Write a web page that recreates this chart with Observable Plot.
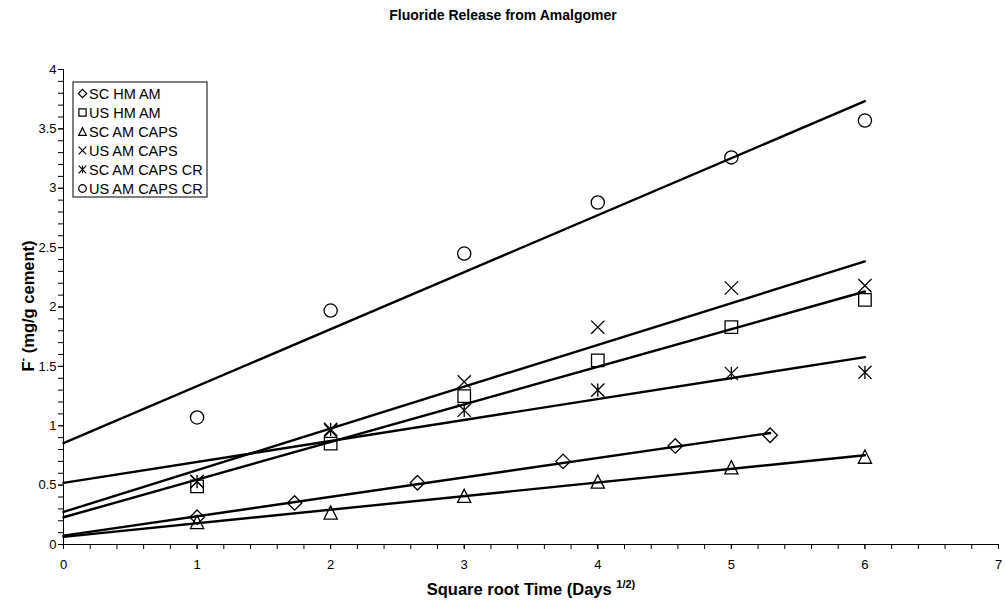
<!DOCTYPE html>
<html><head><meta charset="utf-8">
<script src="https://cdn.jsdelivr.net/npm/d3@7"></script>
<script src="https://cdn.jsdelivr.net/npm/@observablehq/plot@0.6"></script>
<style>
body{margin:0;background:#fff;font-family:"Liberation Sans",Arial,sans-serif;}
#title{height:30px;line-height:30px;text-align:center;font-weight:bold;font-size:14px;color:#000;}
</style></head><body>
<div id="title">Fluoride Release from Amalgomer</div>
<div id="chart"></div>
<script>
// ---- data ----
const seriesNames = ["SC HM AM", "US HM AM", "SC AM CAPS", "US AM CAPS", "SC AM CAPS CR", "US AM CAPS CR"];
const xDiamond = [1, 1.73, 2.65, 3.74, 4.58, 5.29];
const xDays = [1, 2, 3, 4, 5, 6];
const scHmAm = [0.23, 0.35, 0.52, 0.70, 0.83, 0.92];
const usHmAm = [0.49, 0.85, 1.25, 1.55, 1.83, 2.06];
const scAmCaps = [0.19, 0.27, 0.41, 0.53, 0.65, 0.74];
const usAmCaps = [0.53, 0.96, 1.37, 1.83, 2.16, 2.18];
const scAmCapsCr = [0.53, 0.97, 1.13, 1.30, 1.44, 1.45];
const usAmCapsCr = [1.07, 1.97, 2.45, 2.88, 3.26, 3.57];
const xTickLabels = [0, 1, 2, 3, 4, 5, 6, 7];
const yTickLabels = [0, 0.5, 1, 1.5, 2, 2.5, 3, 3.5, 4];
const xMinor = d3.range(0, 36).map(i => i / 5);
const yMinor = d3.range(0, 41).map(i => i / 10);

// ---- symbols (Excel-like) ----
const R = s => Math.sqrt(s / Math.PI);
const diamondSym = {draw(c, s){const r = R(s) * 1.1; c.moveTo(0, -r); c.lineTo(r, 0); c.lineTo(0, r); c.lineTo(-r, 0); c.closePath();}};
const squareSym = {draw(c, s){const r = R(s) * 0.95; c.moveTo(-r, -r); c.lineTo(r, -r); c.lineTo(r, r); c.lineTo(-r, r); c.closePath();}};
const triangleSym = {draw(c, s){const r = R(s); c.moveTo(0, -r); c.lineTo(r, r); c.lineTo(-r, r); c.closePath();}};
const timesSym = {draw(c, s){const r = R(s); c.moveTo(-r, -r); c.lineTo(r, r); c.moveTo(-r, r); c.lineTo(r, -r);}};
const asteriskSym = {draw(c, s){const r = R(s); c.moveTo(-r, -r); c.lineTo(r, r); c.moveTo(-r, r); c.lineTo(r, -r); c.moveTo(0, -r); c.lineTo(0, r);}};
const circleSym = {draw(c, s){const r = R(s); c.moveTo(r, 0); c.arc(0, 0, r, 0, 2 * Math.PI);}};
const symbols = [diamondSym, squareSym, triangleSym, timesSym, asteriskSym, circleSym];

const series = [
  {name: seriesNames[0], xs: xDiamond, ys: scHmAm},
  {name: seriesNames[1], xs: xDays, ys: usHmAm},
  {name: seriesNames[2], xs: xDays, ys: scAmCaps},
  {name: seriesNames[3], xs: xDays, ys: usAmCaps},
  {name: seriesNames[4], xs: xDays, ys: scAmCapsCr},
  {name: seriesNames[5], xs: xDays, ys: usAmCapsCr}
];

function fit(xs, ys) {
  const mx = d3.mean(xs), my = d3.mean(ys);
  const sxy = d3.sum(xs, (x, i) => (x - mx) * (ys[i] - my));
  const sxx = d3.sum(xs, x => (x - mx) ** 2);
  const m = sxy / sxx, b = my - m * mx;
  const xmax = d3.max(xs);
  return [{x: 0, y: b}, {x: xmax, y: b + m * xmax}];
}

const lineMarks = series.map(s => Plot.line(fit(s.xs, s.ys), {x: "x", y: "y", stroke: "#000", strokeWidth: 2.4}));
const dotMarks = series.map((s, k) => Plot.dot(s.xs.map((x, i) => ({x, y: s.ys[i]})), {
  x: "x", y: "y", r: 6.6, symbol: symbols[k], stroke: "#000", fill: "none", strokeWidth: 1.3
}));

const fmt = d => String(d);
const plot = Plot.plot({
  width: 1006, height: 580,
  marginLeft: 63, marginRight: 8, marginTop: 39, marginBottom: 66,
  x: {domain: [0, 7]}, y: {domain: [0, 4]},
  style: {fontFamily: "'Liberation Sans', Arial, sans-serif", fontSize: "13px", color: "#000", background: "#fff"},
  marks: [
    Plot.axisX(xMinor, {tickSize: 5, text: null, label: null}),
    Plot.axisX(xTickLabels, {tickSize: 5, tickPadding: 10, tickFormat: fmt, label: null}),
    Plot.axisY(yMinor, {tickSize: 5, text: null, label: null}),
    Plot.axisY(yTickLabels, {tickSize: 5, tickPadding: 2, tickFormat: fmt, label: null}),
    Plot.ruleY([0], {stroke: "#000"}),
    Plot.ruleX([0], {stroke: "#000"}),
    ...lineMarks,
    ...dotMarks
  ]
});
document.getElementById("chart").appendChild(plot);

// ---- axis titles ----
const svg = d3.select(plot);
const xt = svg.append("text").attr("x", 531).attr("y", 565).attr("text-anchor", "middle")
  .attr("font-weight", "bold").attr("font-size", 16.5).attr("fill", "#000");
xt.append("tspan").text("Square root Time (Days ");
xt.append("tspan").attr("font-size", 11).attr("dy", -7).text("1/2)");

const yt = svg.append("text").attr("transform", "translate(34,276) rotate(-90)").attr("text-anchor", "middle")
  .attr("font-weight", "bold").attr("font-size", 16.5).attr("fill", "#000");
yt.append("tspan").text("F");
yt.append("tspan").attr("font-size", 11).attr("dy", -8).text("-");
yt.append("tspan").attr("dy", 8).text(" (mg/g cement)");

// ---- legend ----
const lg = svg.append("g").attr("transform", "translate(73,52)");
lg.append("rect").attr("x", 0).attr("y", 0).attr("width", 134).attr("height", 115)
  .attr("fill", "#fff").attr("stroke", "#000").attr("stroke-width", 1);
seriesNames.forEach((name, k) => {
  const cy = 11.5 + k * 19;
  lg.append("path").attr("transform", `translate(9.5,${cy})`)
    .attr("d", d3.symbol(symbols[k], Math.PI * 3.8 * 3.8)())
    .attr("fill", "none").attr("stroke", "#000").attr("stroke-width", 1.2);
  lg.append("text").attr("x", 16).attr("y", cy).attr("dy", "0.35em").attr("text-anchor", "start")
    .attr("font-size", 14.5).attr("fill", "#000").text(name);
});
</script>
</body></html>
